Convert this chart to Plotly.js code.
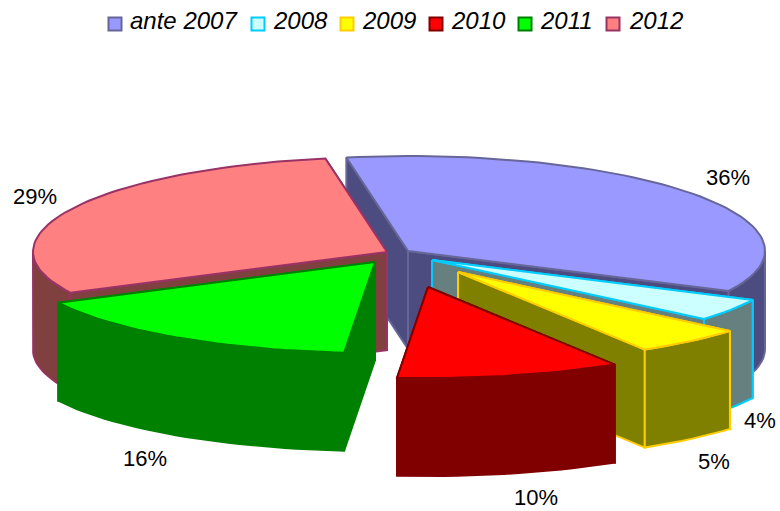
<!DOCTYPE html>
<html><head><meta charset="utf-8">
<script src="https://cdn.plot.ly/plotly-3.0.1.min.js"></script>
<style>html,body{margin:0;padding:0;background:#fff}#c{width:780px;height:511px}</style>
</head><body><div id="c"></div>
<script>
const categories = ['ante 2007','2008','2009','2010','2011','2012'];
const values = [36,4,5,10,16,29];
const topColors = ['#9999ff','#ccffff','#ffff00','#ff0000','#00ff00','#ff8080'];
const sideColors = ['#4c4c80','#668080','#808000','#800000','#008000','#804040'];
const lineColors = ['#666699','#00ccff','#ffcc00','#800000','#008000','#993366'];
// exploded pie layout (style constants, not data)
const apexX = [408,432,458,428,375,387];
const apexY = [251,260,272,287,262,252];
const paintOrder = [0,5,1,2,4,3];
const startDeg = -11.5, rxRight = 357, rxLeft = 354, ryBack = 95, ryFront = 91, depth = 98, warp = 1.5;
const legendX = [115,258,347,436,525,613];
const legendTextX = [130,274,363,452,541,630];
const legendY = 24;
const labelX = [728,760,714,536,145,35];
const labelY = [179,422,463,499,460,198];
const FONT = 'Liberation Sans, Arial, sans-serif';

const rad = d => d*Math.PI/180;
const total = values.reduce((a,b)=>a+b,0);
function warped(t){ return t + warp*(Math.cos(rad(t)) - Math.max(0,Math.sin(rad(t)))); }
function pt(i,td){ // td is the already warped angle
  const u=Math.sin(rad(td)), v=-Math.cos(rad(td));
  return [apexX[i]+(u<0?rxLeft:rxRight)*u, apexY[i]+(v<0?ryBack:ryFront)*v];
}
function arc(i,a,b){ const out=[]; const n=Math.max(2,Math.ceil(Math.abs(b-a)/2));
  for(let k=0;k<=n;k++) out.push(pt(i,a+(b-a)*k/n)); return out; }
function down(p){ return [p[0],p[1]+depth]; }

const traces=[];
function poly(pts,fill,line){
  const c=pts.concat([pts[0]]);
  traces.push({type:'scatter',mode:'lines',x:c.map(p=>p[0]),y:c.map(p=>p[1]),fill:'toself',fillcolor:fill,
    line:{color:line,width:2,shape:'linear'},hoverinfo:'skip',showlegend:false});
}
const ranges=[]; let acc=startDeg;
values.forEach((v,i)=>{ const a=acc, b=acc+v/total*360; ranges[i]=[warped(a),warped(b)]; acc=b; });

paintOrder.forEach(i=>{
  const [a,b]=ranges[i], apex=[apexX[i],apexY[i]];
  const A=pt(i,a), B=pt(i,b);
  const faceA=[apex,A,down(A),down(apex)], faceB=[apex,B,down(B),down(apex)];
  const mid=Math.sin(rad((a+b)/2));
  const faces = mid>0 ? [faceA,faceB] : [faceB,faceA];
  faces.forEach(f=>poly(f,sideColors[i],lineColors[i]));
  const w0=Math.max(a,90), w1=Math.min(b,270);
  if(w1>w0){ const top=arc(i,w0,w1); poly(top.concat(top.slice().reverse().map(down)),sideColors[i],lineColors[i]); }
  poly([apex].concat(arc(i,a,b)),topColors[i],lineColors[i]);
});

// legend key: swatch + italic name
traces.push({type:'scatter',mode:'markers',x:legendX,y:legendX.map(()=>legendY),
  marker:{symbol:'square',size:13,color:topColors,line:{color:lineColors,width:2}},
  cliponaxis:false,hoverinfo:'skip',showlegend:false});
traces.push({type:'scatter',mode:'text',x:legendTextX,y:legendTextX.map(()=>legendY-1),text:categories,
  textposition:'middle right',cliponaxis:false,
  textfont:{family:FONT,size:24,color:'#000',style:'italic'},hoverinfo:'skip',showlegend:false});
// percentage labels
traces.push({type:'scatter',mode:'text',x:labelX,y:labelY,text:values.map(v=>v+'%'),
  textposition:'middle center',cliponaxis:false,textfont:{family:FONT,size:22,color:'#000'},hoverinfo:'skip',showlegend:false});

Plotly.newPlot('c',traces,{
  width:780,height:511,margin:{l:0,r:0,t:0,b:0},paper_bgcolor:'#fff',plot_bgcolor:'#fff',showlegend:false,
  xaxis:{range:[0,780],visible:false,fixedrange:true},
  yaxis:{range:[511,0],visible:false,fixedrange:true}
},{displayModeBar:false,staticPlot:true});
</script></body></html>
